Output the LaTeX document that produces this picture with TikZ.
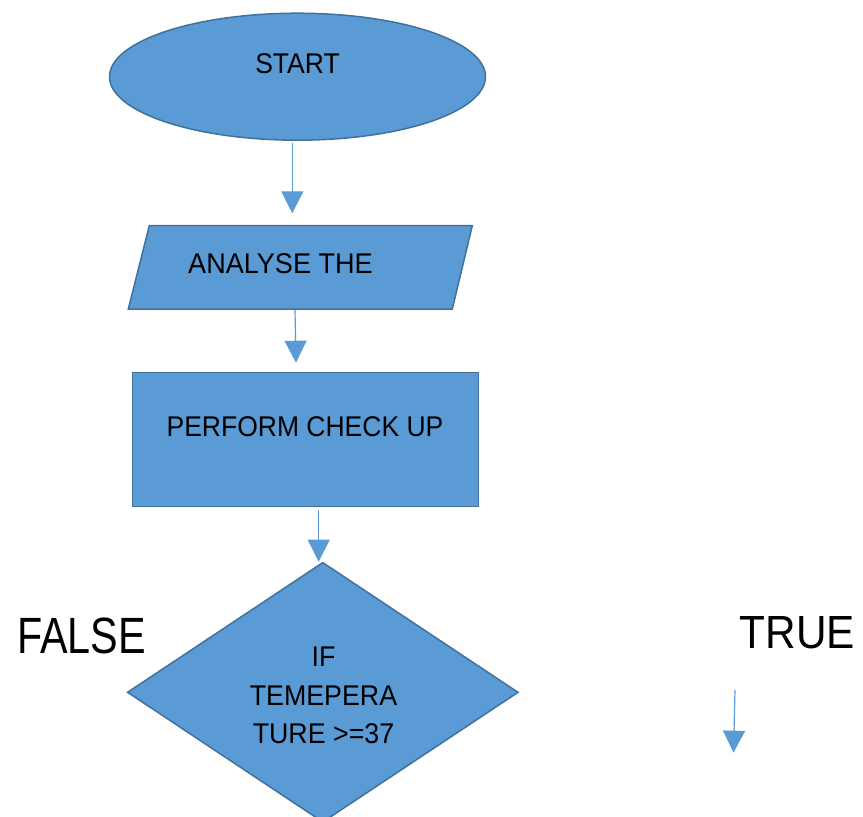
\documentclass[tikz,border=0pt]{standalone}
\usepackage{fontspec}
\setmainfont{Liberation Sans}
\usetikzlibrary{shapes.geometric,arrows.meta}
\definecolor{fillblue}{HTML}{5B9BD5}
\definecolor{edgeblue}{HTML}{41719C}
\definecolor{arrowblue}{HTML}{5B9BD5}
\newcommand\sqz[2]{\scalebox{#1}[1]{#2}}
\begin{document}
\begin{tikzpicture}[x=1pt,y=-1pt,
  shapebox/.style={fill=fillblue,draw=edgeblue,line width=1.5pt,inner sep=0pt},
  lbl/.style={font=\fontsize{28.5}{34}\selectfont,anchor=base,inner sep=0pt},
  conn/.style={draw=arrowblue,line width=1.2pt,-{Triangle[width=22pt,length=22pt,fill=arrowblue]}}]
\useasboundingbox (0,0) rectangle (863,817);
\clip (0,0) rectangle (863,817);
% shapes
\node[shapebox,ellipse,minimum width=376pt,minimum height=127pt] (start) at (297.5,76.7) {};
\coordinate (io) at (300.3,267.3);
\draw[shapebox] (149.3,225.7) -- (472.3,225.7) -- (452.3,309) -- (128.3,309) -- cycle;
\node[shapebox,rectangle,minimum width=345.6pt,minimum height=134.4pt] (check) at (305.5,439.5) {};
\node[shapebox,diamond,minimum width=391pt,minimum height=260pt] (dec) at (322.8,692.3) {};
% texts
\node[lbl] (tstart) at (297.5,73.3) {\sqz{0.93}{START}};
\node[lbl] (tio) at (280.5,273.3) {\sqz{0.95}{ANALYSE THE}};
\node[lbl] (tcheck) at (305,436.7) {\sqz{0.93}{PERFORM CHECK UP}};
\node[lbl] (tif1) at (323.5,666.7) {\sqz{0.94}{IF}};
\node[lbl] (tif2) at (323.5,705) {\sqz{0.94}{TEMEPERA}};
\node[lbl] (tif3) at (323.5,743.3) {\sqz{0.94}{TURE >=37}};
\node[lbl,font=\fontsize{51}{60}\selectfont] (tfalse) at (81.5,653.3) {\sqz{0.81}{FALSE}};
\node[lbl,font=\fontsize{46.5}{55}\selectfont] (ttrue) at (797.5,648.3) {\sqz{0.91}{TRUE}};
% connector ends
\coordinate (a1s) at (292.3,143.3);
\coordinate (a1e) at (292.3,213.3);
\coordinate (a2s) at (295,310);
\coordinate (a2e) at (296,362.7);
\coordinate (a3s) at (318.7,510);
\coordinate (a3e) at (318.7,561.7);
\coordinate (a4s) at (735,690);
\coordinate (a4e) at (733.5,752.7);
\draw[conn] (a1s) -- (a1e);
\draw[conn] (a2s) -- (a2e);
\draw[conn] (a3s) -- (a3e);
\draw[conn] (a4s) -- (a4e);
\end{tikzpicture}
\end{document}
